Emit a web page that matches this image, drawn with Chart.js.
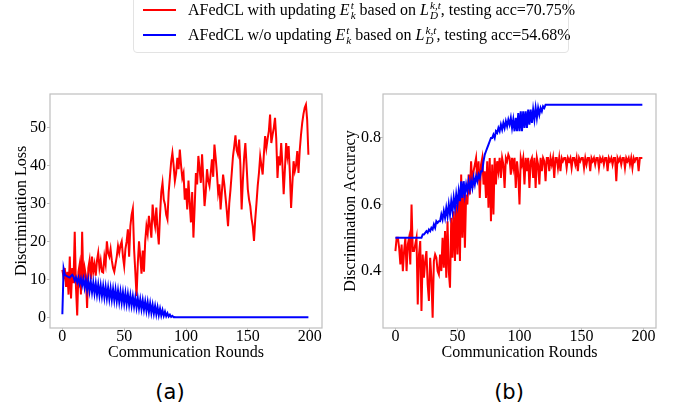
<!DOCTYPE html>
<html lang="en">
<head>
<meta charset="utf-8">
<title>Discrimination loss and accuracy</title>
<script src="https://cdn.jsdelivr.net/npm/chart.js"></script>
<style>
  body { margin: 0; background: #fff; }
  #wrap { position: relative; width: 681px; height: 407px; overflow: hidden;
          font-family: 'Liberation Serif', 'Times New Roman', serif; color: #000; }
  canvas { position: absolute; top: 0; }
  #legendBox { position: absolute; left: 133px; top: -6px; width: 434px; height: 57px;
               border: 1px solid #e3e3e3; border-radius: 4px; }
  .swatch { position: absolute; left: 143px; width: 33px; height: 2px; }
  .row { position: absolute; left: 188px; font-size: 16px; line-height: 20px; white-space: nowrap; }
  .ss { display: inline-flex; flex-direction: column; font-size: 0.7em; line-height: 0.9;
        vertical-align: 6px; font-style: italic; margin-left: 1px; }
  .sub { position: absolute; font-family: 'DejaVu Sans', sans-serif; font-size: 21px;
         top: 380px; width: 60px; text-align: center; }
</style>
</head>
<body>
<div id="wrap">
  <canvas id="lossChart" width="330" height="370" style="left:0"></canvas>
  <canvas id="accChart" width="351" height="370" style="left:330px"></canvas>

  <div id="legendBox"></div>
  <div class="swatch" style="top:9px;background:#ff0000"></div>
  <div class="row" style="top:0px">AFedCL with updating <i>E</i><span class="ss"><span>t</span><span>k</span></span> based on <i>L</i><span class="ss"><span>k,t</span><span>D</span></span>, testing acc=70.75%</div>
  <div class="swatch" style="top:34px;background:#0000ff"></div>
  <div class="row" style="top:25px">AFedCL w/o updating <i>E</i><span class="ss"><span>t</span><span>k</span></span> based on <i>L</i><span class="ss"><span>k,t</span><span>D</span></span>, testing acc=54.68%</div>

  <div class="sub" style="left:140px">(a)</div>
  <div class="sub" style="left:479px">(b)</div>
</div>

<script>
// x ticks (communication rounds)
const roundTicks = [0, 50, 100, 150, 200];

// panel (a): discrimination loss, one value per round
const lossTicks = [0, 10, 20, 30, 40, 50];
const lossRed = [
  12.5, 10.5, 13, 8, 12, 6, 16, 5, 13, 9,
  22.5, 8, 0.5, 12, 14, 6, 22.5, 9, 13, 11,
  2.5, 13, 15, 10, 16, 12, 14, 11, 15, 17,
  13, 15, 12, 11.8, 16, 14, 20, 17, 16, 18,
  15, 13, 12, 14, 16, 18.8, 17, 19, 20, 16,
  13.5, 18, 20, 23.2, 16, 24, 27, 28.6, 18, 12,
  5.6, 14, 20, 16, 11.5, 17.6, 12, 20, 24, 22,
  26.7, 24, 21, 29.7, 26, 24, 28.9, 23, 19.2, 27,
  33, 35.4, 31, 29.7, 27, 25.8, 33, 37, 41, 43.3,
  40, 35.9, 38, 42, 39, 44.2, 40, 36.7, 38, 31,
  34, 28.4, 36, 30, 25, 33, 21, 29, 38, 35,
  42.5, 39, 35.4, 42.9, 36.3, 29.3, 33, 39, 36, 34.6,
  38, 41.6, 37, 45.5, 42, 38, 32.8, 35, 28.4, 33,
  37.6, 35, 31.5, 28, 24, 30, 33.7, 38, 42.4, 45,
  47.9, 44, 42.9, 46.8, 40, 28.4, 36, 42, 45.9, 40,
  33.7, 31, 29.3, 26, 24, 20.1, 25.8, 30, 34.6, 38,
  42.4, 40, 37.6, 43, 47.7, 44.6, 47, 49, 53.4, 45.9,
  48, 49.9, 52.5, 47, 36.7, 42.4, 40, 45.9, 40, 32.4,
  39, 45.9, 42.4, 45.1, 38, 28.8, 35, 41.1, 38.5, 40,
  43.8, 38, 44, 48, 51.2, 53.5, 55.2, 56, 52, 42.8
];
const lossBlue = [
  0.8, 12.8, 11.2, 11.0, 10.8, 10.6, 10.5, 10.9, 11.2, 10.7,
  9.6, 10.5, 9.2, 10.4, 8.8, 10.2, 8.4, 10.1, 7.8, 9.9,
  7.2, 9.7, 6.9, 9.4, 6.6, 9.1, 6.3, 8.9, 6.0, 8.6,
  5.8, 8.4, 5.6, 8.2, 5.3, 8.0, 5.1, 7.8, 4.9, 7.6,
  4.7, 7.4, 4.5, 7.3, 4.3, 7.0, 4.1, 6.8, 3.9, 6.6,
  3.7, 6.4, 3.5, 6.1, 3.3, 5.8, 3.1, 5.5, 2.9, 5.2,
  2.6, 5.0, 2.4, 4.7, 2.2, 4.5, 2.0, 4.2, 1.7, 4.0,
  1.4, 3.7, 1.2, 3.3, 1.0, 3.0, 0.8, 2.7, 0.6, 2.3,
  0.5, 1.9, 0.4, 1.5, 0.3, 1.1, 0.2, 0.7, 0.1, 0.4,
  0.05, 0.1, 0, 0, 0, 0, 0, 0, 0, 0,
  0, 0, 0, 0, 0, 0, 0, 0, 0, 0,
  0, 0, 0, 0, 0, 0, 0, 0, 0, 0,
  0, 0, 0, 0, 0, 0, 0, 0, 0, 0,
  0, 0, 0, 0, 0, 0, 0, 0, 0, 0,
  0, 0, 0, 0, 0, 0, 0, 0, 0, 0,
  0, 0, 0, 0, 0, 0, 0, 0, 0, 0,
  0, 0, 0, 0, 0, 0, 0, 0, 0, 0,
  0, 0, 0, 0, 0, 0, 0, 0, 0, 0,
  0, 0, 0, 0, 0, 0, 0, 0, 0, 0,
  0, 0, 0, 0, 0, 0, 0, 0, 0, 0
];

// panel (b): discrimination accuracy, one value per round
const accTicks = [0.4, 0.6, 0.8];
const accTickLabels = ['0.4', '0.6', '0.8'];
const accRed = [
  0.46, 0.5, 0.5, 0.47, 0.42, 0.48, 0.4, 0.46, 0.5, 0.4,
  0.48, 0.5, 0.42, 0.6, 0.46, 0.46, 0.48, 0.5, 0.3, 0.45,
  0.49, 0.28, 0.45, 0.38, 0.43, 0.46, 0.36, 0.31, 0.44, 0.38,
  0.26, 0.43, 0.45, 0.44, 0.4, 0.39, 0.45, 0.4, 0.5, 0.41,
  0.52, 0.38, 0.55, 0.4, 0.35, 0.56, 0.44, 0.58, 0.43, 0.6,
  0.45, 0.62, 0.43, 0.69, 0.5, 0.66, 0.47, 0.63, 0.6, 0.69,
  0.63, 0.73, 0.65, 0.7, 0.72, 0.74, 0.67, 0.73, 0.62, 0.72,
  0.74, 0.66, 0.7, 0.62, 0.73, 0.59, 0.74, 0.55, 0.72, 0.57,
  0.74, 0.66, 0.73, 0.7, 0.74, 0.68, 0.74, 0.72, 0.65, 0.74,
  0.73, 0.75, 0.74, 0.69, 0.74, 0.71, 0.74, 0.65, 0.73, 0.69,
  0.6, 0.74, 0.72, 0.74, 0.66, 0.74, 0.7, 0.74, 0.65, 0.73,
  0.74, 0.68, 0.74, 0.65, 0.74, 0.72, 0.66, 0.74, 0.7, 0.74,
  0.73, 0.67, 0.74, 0.74, 0.7, 0.74, 0.72, 0.74, 0.68, 0.74,
  0.74, 0.71, 0.74, 0.7, 0.74, 0.73, 0.74, 0.74, 0.71, 0.74,
  0.73, 0.74, 0.71, 0.74, 0.74, 0.72, 0.74, 0.7, 0.74, 0.73,
  0.74, 0.74, 0.71, 0.74, 0.72, 0.74, 0.74, 0.7, 0.74, 0.73,
  0.74, 0.72, 0.74, 0.74, 0.71, 0.74, 0.73, 0.74, 0.72, 0.74,
  0.74, 0.7, 0.74, 0.73, 0.74, 0.72, 0.74, 0.74, 0.67, 0.74,
  0.73, 0.74, 0.72, 0.74, 0.74, 0.71, 0.74, 0.73, 0.74, 0.72,
  0.74, 0.71, 0.74, 0.73, 0.74, 0.74, 0.7, 0.74, 0.74, 0.74
];
const accBlue = [
  0.5, 0.5, 0.5, 0.5, 0.5, 0.5, 0.5, 0.5, 0.5, 0.5,
  0.5, 0.5, 0.5, 0.5, 0.5, 0.5, 0.5, 0.5, 0.5, 0.5,
  0.5, 0.5, 0.51, 0.51, 0.515, 0.52, 0.515, 0.525, 0.52, 0.53,
  0.525, 0.54, 0.53, 0.55, 0.545, 0.55, 0.55, 0.57, 0.555, 0.58,
  0.56, 0.59, 0.565, 0.6, 0.57, 0.61, 0.58, 0.62, 0.59, 0.63,
  0.6, 0.64, 0.61, 0.67, 0.62, 0.67, 0.63, 0.66, 0.64, 0.67,
  0.645, 0.67, 0.65, 0.68, 0.66, 0.685, 0.67, 0.69, 0.68, 0.7,
  0.7, 0.73, 0.75, 0.76, 0.77, 0.78, 0.79, 0.8, 0.8, 0.81,
  0.8, 0.82, 0.815, 0.83, 0.82, 0.84, 0.825, 0.845, 0.83, 0.85,
  0.835, 0.855, 0.84, 0.86, 0.83, 0.855, 0.82, 0.86, 0.82, 0.875,
  0.82, 0.88, 0.82, 0.88, 0.83, 0.88, 0.83, 0.885, 0.84, 0.885,
  0.845, 0.885, 0.855, 0.89, 0.86, 0.89, 0.87, 0.89, 0.88, 0.895,
  0.89, 0.9, 0.9, 0.9, 0.9, 0.9, 0.9, 0.9, 0.9, 0.9,
  0.9, 0.9, 0.9, 0.9, 0.9, 0.9, 0.9, 0.9, 0.9, 0.9,
  0.9, 0.9, 0.9, 0.9, 0.9, 0.9, 0.9, 0.9, 0.9, 0.9,
  0.9, 0.9, 0.9, 0.9, 0.9, 0.9, 0.9, 0.9, 0.9, 0.9,
  0.9, 0.9, 0.9, 0.9, 0.9, 0.9, 0.9, 0.9, 0.9, 0.9,
  0.9, 0.9, 0.9, 0.9, 0.9, 0.9, 0.9, 0.9, 0.9, 0.9,
  0.9, 0.9, 0.9, 0.9, 0.9, 0.9, 0.9, 0.9, 0.9, 0.9,
  0.9, 0.9, 0.9, 0.9, 0.9, 0.9, 0.9, 0.9, 0.9, 0.9
];

const serif = "'Liberation Serif', 'Times New Roman', serif";

// light grey box round the plot area (matplotlib style spines)
const frame = {
  id: 'frame',
  afterDatasetsDraw(chart) {
    const { ctx, chartArea: a } = chart;
    ctx.save();
    ctx.strokeStyle = '#bfbfbf';
    ctx.lineWidth = 1.2;
    ctx.strokeRect(a.left, a.top, a.right - a.left, a.bottom - a.top);
    ctx.restore();
  }
};

function panel(id, red, blue, o) {
  return new Chart(document.getElementById(id), {
    type: 'line',
    data: {
      datasets: [
        { data: red.map((v, i) => ({ x: i, y: v })), borderColor: '#ff0000', borderWidth: 2,
          pointRadius: 0, tension: 0, order: 1 },
        { data: blue.map((v, i) => ({ x: i, y: v })), borderColor: '#0000ff', borderWidth: 2,
          pointRadius: 0, tension: 0, order: 0 }
      ]
    },
    options: {
      responsive: false,
      animation: false,
      devicePixelRatio: 1,
      layout: { padding: { top: 94, right: o.rightPad, bottom: 8, left: 0 } },
      plugins: { legend: { display: false }, tooltip: { enabled: false } },
      scales: {
        x: {
          type: 'linear', min: -10, max: 210,
          afterBuildTicks: s => { s.ticks = roundTicks.map(v => ({ value: v })); },
          afterFit: s => { s.height = 34; },
          border: { display: false },
          grid: { drawOnChartArea: false, tickLength: 3, color: '#bfbfbf' },
          ticks: { font: { family: serif, size: 16, lineHeight: 1 }, color: '#000',
                   padding: -2, maxRotation: 0, autoSkip: false },
          title: { display: true, text: 'Communication Rounds', color: '#000',
                   font: { family: serif, size: 16 }, padding: { top: 0, bottom: 0 } }
        },
        y: {
          min: o.yMin, max: o.yMax,
          afterBuildTicks: s => { s.ticks = o.ticks.map(v => ({ value: v })); },
          afterFit: s => { s.width = o.yWidth; },
          border: { display: false },
          grid: { drawOnChartArea: false, tickLength: 3, color: '#bfbfbf' },
          ticks: { font: { family: serif, size: 16 }, color: '#000', padding: o.tickPad,
                   autoSkip: false, callback: (v, i) => o.labels[i] },
          title: { display: true, text: o.title, color: '#000',
                   font: { family: serif, size: 16 }, padding: { top: o.titlePad, bottom: 0 } }
        }
      }
    },
    plugins: [frame]
  });
}

panel('lossChart', lossRed, lossBlue, {
  yMin: -2.8, yMax: 58.8, ticks: lossTicks, labels: lossTicks.map(String),
  title: 'Discrimination Loss', yWidth: 50, titlePad: 12.4, tickPad: 1, rightPad: 8
});

panel('accChart', accRed, accBlue, {
  yMin: 0.229, yMax: 0.932, ticks: accTicks, labels: accTickLabels,
  title: 'Discrimination Accuracy', yWidth: 53, titlePad: 11, tickPad: -1, rightPad: 25
});
</script>
</body>
</html>
